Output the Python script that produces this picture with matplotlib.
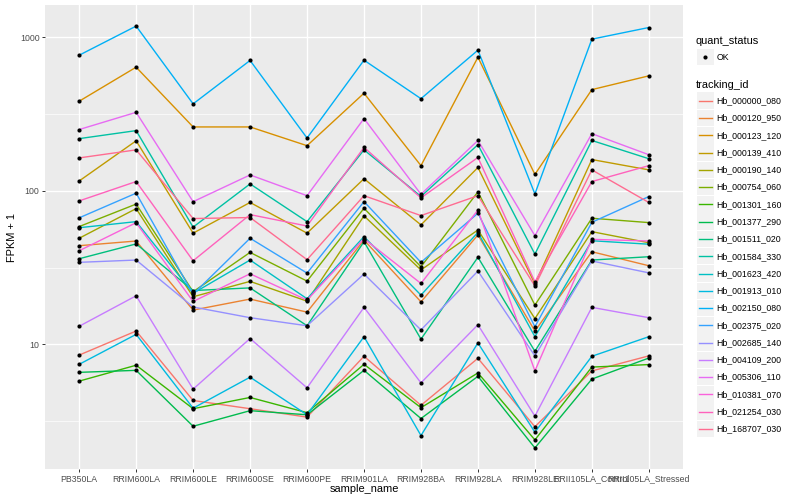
import numpy as np
import matplotlib
matplotlib.use("Agg")
import matplotlib.pyplot as plt
from matplotlib.patches import Rectangle
from matplotlib.ticker import FixedLocator, NullFormatter

plt.rcParams['font.family'] = ['Liberation Sans', 'DejaVu Sans']

samples = ["PB350LA", "RRIM600LA", "RRIM600LE", "RRIM600SE", "RRIM600PE",
           "RRIM901LA", "RRIM928BA", "RRIM928LA", "RRIM928LE",
           "RRII105LA_Control", "RRII105LA_Stressed"]

tracking_ids = ["Hb_000000_080", "Hb_000120_950", "Hb_000123_120", "Hb_000139_410",
                "Hb_000190_140", "Hb_000754_060", "Hb_001301_160", "Hb_001377_290",
                "Hb_001511_020", "Hb_001584_330", "Hb_001623_420", "Hb_001913_010",
                "Hb_002150_080", "Hb_002375_020", "Hb_002685_140", "Hb_004109_200",
                "Hb_005306_110", "Hb_010381_070", "Hb_021254_030", "Hb_168707_030"]

colors = ["#F8766D", "#EA8331", "#D89000", "#C09B00", "#A3A500", "#7CAE00",
          "#39B600", "#00BB4E", "#00BF7D", "#00C1A3", "#00BFC4", "#00BAE0",
          "#00B0F6", "#35A2FF", "#9590FF", "#C77CFF", "#E76BF3", "#FA62DB",
          "#FF62BC", "#FF6C91"]

# FPKM + 1 per sample
hb_000000_080 = [8.5, 12.2, 4.3, 3.8, 3.35, 8.35, 4.0, 8.1, 2.9, 6.7, 8.4]
hb_000120_950 = [43.9, 47.1, 16.7, 19.7, 16.2, 47.8, 18.9, 51.6, 12.2, 40.1, 32.5]
hb_000123_120 = [384, 640, 261, 261, 197, 433, 146, 743, 128, 457, 562]
hb_000139_410 = [116, 212, 53, 84, 53, 120, 60, 142, 24.8, 160, 137]
hb_000190_140 = [49.1, 76.6, 20.4, 25.7, 19.1, 68.7, 30.5, 55.6, 14.7, 54.2, 45.9]
hb_000754_060 = [58.5, 82, 22, 39.7, 25.8, 77, 32, 98.5, 18, 66.3, 62.1]
hb_001301_160 = [5.75, 7.3, 3.8, 4.5, 3.58, 7.4, 3.86, 6.5, 2.38, 7.1, 7.37]
hb_001377_290 = [6.56, 6.76, 2.92, 3.69, 3.47, 6.76, 3.28, 6.18, 2.11, 5.93, 8.13]
hb_001511_020 = [36.1, 45.1, 22.4, 23.3, 13.2, 46.6, 10.8, 36.9, 9.0, 35.4, 37.2]
hb_001584_330 = [219, 247, 58, 111, 63, 185, 92, 200, 38.7, 213, 162]
hb_001623_420 = [57.5, 63, 21.5, 35.4, 19.8, 50.3, 20.9, 53.6, 11.2, 47.3, 44.9]
hb_001913_010 = [7.4, 11.6, 3.83, 6.1, 3.47, 11.2, 2.54, 10.2, 2.67, 8.35, 11.2]
hb_002150_080 = [766, 1186, 369, 708, 221, 711, 399, 826, 95.5, 975, 1161]
hb_002375_020 = [66.7, 96.6, 21.2, 49.1, 29.1, 85.1, 34.2, 71.5, 13.0, 62.4, 91.8]
hb_002685_140 = [34.2, 35.4, 17.5, 14.9, 13.2, 28.7, 12.4, 30.0, 8.4, 34.9, 29.2]
hb_004109_200 = [13.1, 20.7, 5.1, 10.9, 5.2, 17.4, 5.6, 13.4, 3.4, 17.4, 14.9]
hb_005306_110 = [251, 325, 85, 127, 93, 296, 95, 213, 51, 236, 172]
hb_010381_070 = [40.7, 62, 19, 28.8, 19.4, 48.8, 24.9, 75, 6.7, 48.3, 47.1]
hb_021254_030 = [86, 115, 35, 70, 59, 192, 90, 165, 25.5, 115, 146]
hb_168707_030 = [164, 185, 66, 67, 35.6, 93, 69, 93, 24, 137, 84]

series = [hb_000000_080, hb_000120_950, hb_000123_120, hb_000139_410,
          hb_000190_140, hb_000754_060, hb_001301_160, hb_001377_290,
          hb_001511_020, hb_001584_330, hb_001623_420, hb_001913_010,
          hb_002150_080, hb_002375_020, hb_002685_140, hb_004109_200,
          hb_005306_110, hb_010381_070, hb_021254_030, hb_168707_030]

W, H = 800, 500
fig = plt.figure(figsize=(W / 100, H / 100), dpi=100)

pl, pr, pt, pb = 45, 683, 5, 469
ax = fig.add_axes([pl / W, 1 - pb / H, (pr - pl) / W, (pb - pt) / H])
ax.set_facecolor("#EBEBEB")
for s in ax.spines.values():
    s.set_visible(False)

x = np.arange(len(samples))
for vals, col in zip(series, colors):
    ax.plot(x, vals, color=col, lw=1.0, zorder=2, solid_joinstyle='round')
for vals in series:
    ax.scatter(x, vals, s=9, color="black", zorder=3, linewidths=0)

ax.set_yscale("log")
allv = np.concatenate([np.asarray(v, float) for v in series])
lo, hi = np.log10(allv.min()), np.log10(allv.max())
pad = 0.05 * (hi - lo)
ax.set_ylim(10 ** (lo - pad), 10 ** (hi + pad))
ax.set_xlim(-0.6, len(samples) - 1 + 0.6)

ax.set_yticks([10, 100, 1000])
ax.set_yticklabels(["10", "100", "1000"])
ax.yaxis.set_minor_locator(FixedLocator([10 ** 0.5, 10 ** 1.5, 10 ** 2.5]))
ax.yaxis.set_minor_formatter(NullFormatter())
ax.set_xticks(x)
ax.set_xticklabels(samples)

ax.grid(which="major", color="white", lw=1.0)
ax.grid(which="minor", axis="y", color="white", lw=0.5)
ax.set_axisbelow(True)
ax.tick_params(which="major", length=2.2, width=0.7, color="#333333",
               labelsize=6.3, labelcolor="#4D4D4D", pad=1.8)
ax.tick_params(which="minor", length=0)

fig.text(12 / W, 1 - ((pt + pb) / 2) / H, "FPKM + 1", rotation=90,
         ha="center", va="center", fontsize=7.9, color="black")
fig.text(((pl + pr) / 2) / W, 1 - 489 / H, "sample_name",
         ha="center", va="center", fontsize=7.9, color="black")

# legend drawn in pixel space
lax = fig.add_axes([0, 0, 1, 1], zorder=5)
lax.set_xlim(0, W)
lax.set_ylim(H, 0)
lax.axis("off")

kx0, kw, kh = 697, 16.5, 16.5
lax.text(696, 41, "quant_status", fontsize=7.9, va="center", ha="left")
lax.add_patch(Rectangle((kx0, 57.2 - kh / 2), kw, kh, facecolor="#F2F2F2",
                        edgecolor="none"))
lax.scatter([kx0 + kw / 2], [57.2], s=9, color="black", linewidths=0)
lax.text(716.5, 57.2, "OK", fontsize=6.3, va="center", ha="left")

lax.text(696, 84.5, "tracking_id", fontsize=7.9, va="center", ha="left")
y0, dy = 100.7, 17.28
for i, (tid, col) in enumerate(zip(tracking_ids, colors)):
    yc = y0 + i * dy
    lax.add_patch(Rectangle((kx0, yc - kh / 2), kw, kh, facecolor="#F2F2F2",
                            edgecolor="none"))
    lax.plot([kx0 + 1.6, kx0 + kw - 1.6], [yc, yc], color=col, lw=1.0)
    lax.text(716.5, yc, tid, fontsize=6.3, va="center", ha="left")

fig.savefig("out.png", dpi=100)
